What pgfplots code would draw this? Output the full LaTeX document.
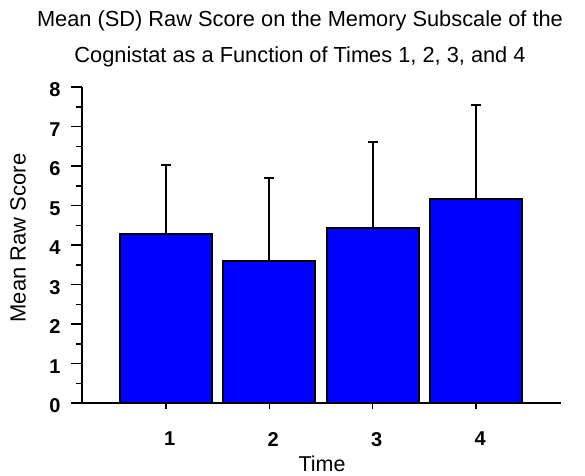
\documentclass[border=0pt]{standalone}
\usepackage{pgfplots}
\pgfplotsset{compat=1.18}
\usepackage{fontspec}
\setmainfont{Liberation Sans}
\begin{document}
\begin{tikzpicture}
\useasboundingbox (-82pt,-72pt) rectangle (503pt,403pt);
\begin{axis}[
  at={(0,0)}, anchor=south west,
  scale only axis, width=479pt, height=316pt,
  xmin=0.19, xmax=4.82, ymin=0, ymax=8,
  axis x line*=bottom, axis y line*=left,
  axis line style={line width=1.8pt, -},
  xtick={1,2,3,4}, ytick={0,1,...,8},
  minor y tick num=1,
  ytick align=outside, xtick align=center,
  every tick/.style={black, line width=1.5pt},
  major tick length=11pt, minor tick length=6pt,
  xticklabel style={font=\fontsize{20}{22}\selectfont\bfseries, yshift=-20pt, xshift=4pt},
  yticklabel style={font=\fontsize{20}{22}\selectfont\bfseries, xshift=-7pt, yshift=-3pt},
  /pgf/number format/assume math mode=true,
  clip=false,
]
\addplot[ybar, bar width=0.89, fill={rgb,255:red,0;green,0;blue,255}, draw=black, line width=1.8pt,
  error bars/.cd, y dir=plus, y explicit,
  error mark=-,
  error bar style={line width=1.8pt, black},
  error mark options={black, line width=2.2pt, mark size=5pt, rotate=90}]
  table[x=x, y=y, y error=e] {
x y e
1 4.27 1.76
2 3.59 2.11
3 4.44 2.16
4 5.16 2.38
};
\end{axis}
\node[font=\fontsize{21.8}{25}\selectfont] at (218pt,382pt) {Mean (SD) Raw Score on the Memory Subscale of the};
\node[font=\fontsize{21.8}{25}\selectfont] at (218pt,346pt) {Cognistat as a Function of Times 1, 2, 3, and 4};
\node[font=\fontsize{22}{25}\selectfont, rotate=90] at (-64pt,165pt) {Mean Raw Score};
\node[font=\fontsize{21.5}{25}\selectfont, inner sep=1pt] at (240pt,-61pt) {Time};
\end{tikzpicture}
\end{document}
